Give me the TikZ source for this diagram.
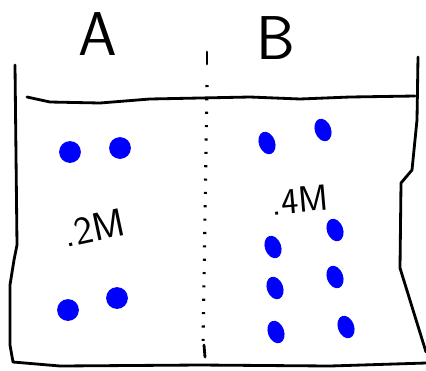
\documentclass[tikz,border=0pt]{standalone}
\usetikzlibrary{shapes.geometric}

\tikzset{
  wall/.style={line width=2pt,line join=round,line cap=round},
  ionA/.style={circle,fill=blue,inner sep=0pt,minimum size=15.5pt},
  ionB/.style={ellipse,fill=blue,inner sep=0pt,minimum width=11.5pt,minimum height=16.5pt,rotate=20},
  hand/.style={font=\sffamily\fontsize{#1}{#1}\selectfont}
}

\begin{document}
\begin{tikzpicture}[x=0.025cm,y=-0.025cm]
\useasboundingbox (0,0) rectangle (426,370);
\draw[wall] (15,65) -- (17,245) -- (14,260) -- (10,285) -- (10,345) -- (13,362) -- (60,366) -- (200,365) -- (330,366) -- (426,363);
\draw[wall] (418,57) -- (417,120) -- (412,170) -- (401,183) -- (400,268) -- (426,352);
\draw[wall] (27,97) -- (50,102) -- (100,103) -- (150,99) -- (200,98) -- (250,97) -- (300,99) -- (350,97) -- (415,96);
\coordinate (top) at (207,85);
\coordinate (bot) at (203,345);
\draw[line width=2.2pt,dash pattern=on 1.5pt off 8pt] (top) -- (bot);
\draw[wall] (207,52) -- (207,64);
\draw[wall] (204,345) -- (205,357);
\node[hand=44] (labA) at (98,34) {A};
\node[hand=44] (labB) at (276,38) {B};
\node[ionA] (a1) at (70,152) {};
\node[ionA] (a2) at (120,148) {};
\node[ionA] (a3) at (68,310) {};
\node[ionA] (a4) at (117,298) {};
\node[ionB] (b1) at (267,143) {};
\node[ionB] (b2) at (323,130) {};
\node[ionB] (b3) at (273,247) {};
\node[ionB] (b4) at (335,230) {};
\node[ionB] (b5) at (275,288) {};
\node[ionB] (b6) at (335,277) {};
\node[ionB] (b7) at (276,332) {};
\node[ionB] (b8) at (346,327) {};
\node[hand=28,rotate=12] (concA) at (94,228) {.2M};
\node[hand=26,rotate=5] (concB) at (300,200) {.4M};
\end{tikzpicture}
\end{document}
